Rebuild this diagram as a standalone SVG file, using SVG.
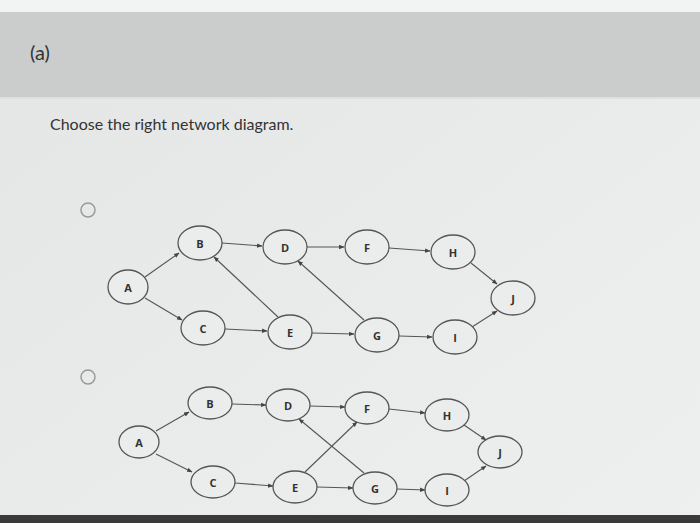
<svg xmlns="http://www.w3.org/2000/svg" width="700" height="523" viewBox="0 0 700 523">
<defs>
<linearGradient id="bg" x1="0" y1="0" x2="1" y2="1"><stop offset="0" stop-color="#e4e6e6"/><stop offset="1" stop-color="#eef0f0"/></linearGradient>
<marker id="ar" viewBox="0 0 10 10" refX="9" refY="5" markerWidth="5" markerHeight="5" orient="auto"><path d="M0,1 L10,5 L0,9 z" fill="#444"/></marker>
</defs>
<style>
.n ellipse{fill:#ebeded;stroke:#555;stroke-width:1.3}
.n text{font-family:"Open Sans","Liberation Sans",sans-serif;font-size:11px;font-weight:bold;fill:#333;text-anchor:middle;dominant-baseline:central}
.c line{stroke:#555;stroke-width:1.1;marker-end:url(#ar)}
.r{fill:none;stroke:#999;stroke-width:1.5}
</style>
<rect width="700" height="523" fill="url(#bg)"/>
<rect x="0" y="0" width="700" height="12" fill="#f2f3f3"/>
<rect x="0" y="12" width="700" height="85" fill="#cbcdcc"/>
<rect x="0" y="97" width="700" height="2" fill="#dfe1e1"/>
<rect x="0" y="515" width="700" height="8" fill="#3a3a3a"/>
<text x="30" y="60" font-family="Lato,'Liberation Sans',sans-serif" font-size="20" fill="#333">(a)</text>
<text x="50" y="130" font-family="Lato,'Liberation Sans',sans-serif" font-size="16" fill="#333">Choose the right network diagram.</text>
<circle class="r" cx="88" cy="210" r="7"/>
<circle class="r" cx="88" cy="377" r="7"/>
<g class="c" id="connectors1">
<line x1="145" y1="277" x2="179" y2="253"/>
<line x1="145" y1="298" x2="182" y2="320"/>
<line x1="222" y1="243" x2="262" y2="246"/>
<line x1="307" y1="247" x2="344" y2="247"/>
<line x1="389" y1="248" x2="430" y2="251"/>
<line x1="471" y1="263" x2="497" y2="284"/>
<line x1="225" y1="329" x2="267" y2="331"/>
<line x1="312" y1="333" x2="354" y2="334"/>
<line x1="399" y1="336" x2="432" y2="337"/>
<line x1="472" y1="327" x2="497" y2="311"/>
<line x1="278" y1="317" x2="214" y2="257"/>
<line x1="364" y1="320" x2="298" y2="261"/>
</g>
<g class="c" id="connectors2">
<line x1="156" y1="431" x2="189" y2="412"/>
<line x1="156" y1="454" x2="192" y2="472"/>
<line x1="232" y1="404" x2="266" y2="405"/>
<line x1="310" y1="406" x2="345" y2="407"/>
<line x1="389" y1="409" x2="425" y2="413"/>
<line x1="464" y1="425" x2="486" y2="440"/>
<line x1="235" y1="483" x2="273" y2="486"/>
<line x1="317" y1="487" x2="353" y2="488"/>
<line x1="397" y1="489" x2="425" y2="490"/>
<line x1="464" y1="481" x2="486" y2="466"/>
<line x1="305" y1="472" x2="357" y2="422"/>
<line x1="364" y1="473" x2="299" y2="419"/>
</g>
<g class="n" id="A1"><ellipse cx="128" cy="287" rx="20" ry="17"/><text x="128" y="287">A</text></g>
<g class="n" id="B1"><ellipse cx="200" cy="243" rx="22" ry="17"/><text x="200" y="243">B</text></g>
<g class="n" id="D1"><ellipse cx="285" cy="247" rx="22" ry="17"/><text x="285" y="247">D</text></g>
<g class="n" id="F1"><ellipse cx="367" cy="247" rx="22" ry="17"/><text x="367" y="247">F</text></g>
<g class="n" id="H1"><ellipse cx="453" cy="252" rx="22" ry="17"/><text x="453" y="252">H</text></g>
<g class="n" id="J1"><ellipse cx="513" cy="298" rx="22" ry="17"/><text x="513" y="298">J</text></g>
<g class="n" id="C1"><ellipse cx="203" cy="328" rx="22" ry="17"/><text x="203" y="328">C</text></g>
<g class="n" id="E1"><ellipse cx="290" cy="332" rx="22" ry="17"/><text x="290" y="332">E</text></g>
<g class="n" id="G1"><ellipse cx="377" cy="335" rx="22" ry="17"/><text x="377" y="335">G</text></g>
<g class="n" id="I1"><ellipse cx="455" cy="337" rx="22" ry="17"/><text x="455" y="337">I</text></g>
<g class="n" id="A2"><ellipse cx="139" cy="442" rx="20" ry="16"/><text x="139" y="442">A</text></g>
<g class="n" id="B2"><ellipse cx="210" cy="403" rx="22" ry="16"/><text x="210" y="403">B</text></g>
<g class="n" id="D2"><ellipse cx="288" cy="405" rx="22" ry="16"/><text x="288" y="405">D</text></g>
<g class="n" id="F2"><ellipse cx="367" cy="408" rx="22" ry="16"/><text x="367" y="408">F</text></g>
<g class="n" id="H2"><ellipse cx="447" cy="415" rx="22" ry="16"/><text x="447" y="415">H</text></g>
<g class="n" id="J2"><ellipse cx="500" cy="452" rx="22" ry="16"/><text x="500" y="452">J</text></g>
<g class="n" id="C2"><ellipse cx="213" cy="482" rx="22" ry="16"/><text x="213" y="482">C</text></g>
<g class="n" id="E2"><ellipse cx="295" cy="487" rx="22" ry="16"/><text x="295" y="487">E</text></g>
<g class="n" id="G2"><ellipse cx="375" cy="488" rx="22" ry="16"/><text x="375" y="488">G</text></g>
<g class="n" id="I2"><ellipse cx="447" cy="490" rx="22" ry="16"/><text x="447" y="490">I</text></g>
</svg>
